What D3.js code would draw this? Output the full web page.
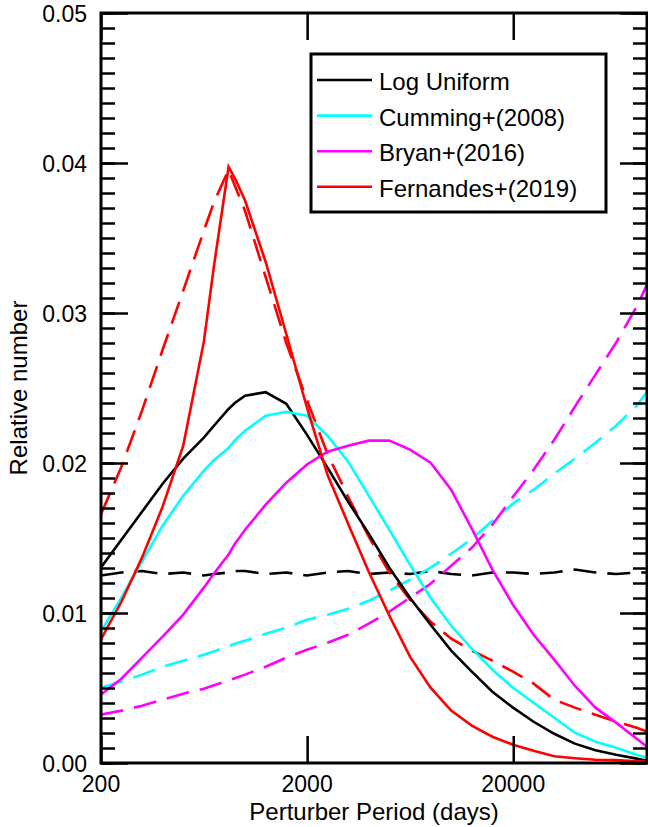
<!DOCTYPE html>
<html>
<head>
<meta charset="utf-8">
<script src="https://cdn.jsdelivr.net/npm/d3@7/dist/d3.min.js"></script>
<style>
  html, body { margin: 0; padding: 0; background: #fff; }
  svg { display: block; }
  text { font-family: "Liberation Sans", Arial, Helvetica, sans-serif; fill: #000; }
</style>
</head>
<body>
<svg id="chart" width="648" height="827"></svg>
<script>
// Perturber period grid, log10(days)
const logPeriod = [2.30, 2.40, 2.50, 2.60, 2.70, 2.80, 2.85, 2.92, 2.95, 3.00, 3.10, 3.20, 3.30, 3.40, 3.50,
                   3.60, 3.70, 3.80, 3.90, 4.00, 4.10, 4.20, 4.30, 4.40, 4.50, 4.60, 4.70, 4.80, 4.90, 4.95];

// Solid curves
const logUniform   = [0.01302, 0.01489, 0.01675, 0.01862, 0.02029, 0.02169, 0.02250, 0.02360, 0.02400, 0.02449, 0.02472, 0.02395, 0.02189, 0.01969, 0.01742,
                      0.01529, 0.01302, 0.01102, 0.00922, 0.00749, 0.00609, 0.00475, 0.00369, 0.00275, 0.00195, 0.00129, 0.00085, 0.00055, 0.00029, 0.00015];
const cumming      = [0.00875, 0.01102, 0.01342, 0.01582, 0.01782, 0.01949, 0.02020, 0.02100, 0.02150, 0.02215, 0.02315, 0.02342, 0.02315, 0.02182, 0.02009,
                      0.01782, 0.01555, 0.01322, 0.01102, 0.00915, 0.00762, 0.00622, 0.00502, 0.00402, 0.00302, 0.00202, 0.00142, 0.00102, 0.00055, 0.00035];
const bryan        = [0.00455, 0.00562, 0.00702, 0.00842, 0.00989, 0.01169, 0.01265, 0.01390, 0.01460, 0.01555, 0.01722, 0.01869, 0.01989, 0.02075, 0.02115,
                      0.02149, 0.02149, 0.02089, 0.02002, 0.01822, 0.01562, 0.01289, 0.01055, 0.00855, 0.00689, 0.00515, 0.00369, 0.00269, 0.00162, 0.00109];
const fernandes    = [0.00822, 0.01075, 0.01369, 0.01709, 0.02115, 0.02809, 0.03322, 0.03975, 0.03900, 0.03750, 0.03340, 0.02860, 0.02370, 0.01922, 0.01595,
                      0.01275, 0.00982, 0.00709, 0.00502, 0.00349, 0.00249, 0.00175, 0.00122, 0.00082, 0.00045, 0.00032, 0.00022, 0.00019, 0.00012, 0.00009];

// Dashed curves
const logUniformD  = [0.0125, 0.0127, 0.0128, 0.0126, 0.0127, 0.0125, 0.0126, 0.0127, 0.0128, 0.0128, 0.0126, 0.0127, 0.0125, 0.0127, 0.0128,
                      0.0126, 0.0127, 0.0126, 0.0128, 0.0126, 0.0125, 0.0127, 0.0127, 0.0126, 0.0127, 0.0129, 0.0127, 0.0126, 0.0127, 0.0127];
const cummingD     = [0.00502, 0.00542, 0.00589, 0.00642, 0.00682, 0.00722, 0.00745, 0.00778, 0.00795, 0.00815, 0.00862, 0.00902, 0.00955, 0.00989, 0.01029,
                      0.01082, 0.01149, 0.01222, 0.01302, 0.01395, 0.01495, 0.01615, 0.01729, 0.01822, 0.01929, 0.02029, 0.02135, 0.02249, 0.02382, 0.02475];
const bryanD       = [0.00322, 0.00349, 0.00382, 0.00422, 0.00462, 0.00495, 0.00518, 0.00550, 0.00565, 0.00589, 0.00642, 0.00702, 0.00755, 0.00802, 0.00855,
                      0.00929, 0.01009, 0.01102, 0.01195, 0.01315, 0.01435, 0.01589, 0.01775, 0.01955, 0.02155, 0.02375, 0.02589, 0.02802, 0.03042, 0.03189];
const fernandesD   = [0.01655, 0.01975, 0.02349, 0.02755, 0.03149, 0.03549, 0.03742, 0.03955, 0.03850, 0.03680, 0.03240, 0.02800, 0.02420, 0.02060, 0.01775,
                      0.01509, 0.01269, 0.01089, 0.00942, 0.00829, 0.00749, 0.00682, 0.00609, 0.00529, 0.00422, 0.00369, 0.00322, 0.00275, 0.00235, 0.00209];

const seriesNames  = ["Log Uniform", "Cumming+(2008)", "Bryan+(2016)", "Fernandes+(2019)"];
const seriesColors = ["#000000", "#00ffff", "#ff00ff", "#ff0000"];
const solidSeries  = [logUniform, cumming, bryan, fernandes];
const dashedSeries = [logUniformD, cummingD, bryanD, fernandesD];

const xTicks = [200, 2000, 20000];
const yTicks = [0, 0.01, 0.02, 0.03, 0.04, 0.05];
const yMinorTicks = d3.range(0, 51).map(i => i / 1000);
const xDomain = [200, Math.pow(10, 4.95)];
const yDomain = [0, 0.05];

(function draw() {
  const svg = d3.select("#chart");
  const pL = 101, pR = 647, pT = 13, pB = 763;

  const x = d3.scaleLog().domain(xDomain).range([pL, pR]);
  const y = d3.scaleLinear().domain(yDomain).range([pB, pT]);

  const periods = logPeriod.map(l => Math.pow(10, l));
  const line = d3.line().x(d => x(d[0])).y(d => y(d[1]));

  svg.append("clipPath").attr("id", "clip")
    .append("rect").attr("x", pL).attr("y", pT).attr("width", pR - pL).attr("height", pB - pT);

  const curves = svg.append("g").attr("clip-path", "url(#clip)");
  dashedSeries.forEach((vals, i) => {
    curves.append("path")
      .datum(periods.map((p, k) => [p, vals[k]]))
      .attr("d", line)
      .attr("fill", "none")
      .attr("stroke", seriesColors[i])
      .attr("stroke-width", 2.6)
      .attr("stroke-dasharray", "23,11");
  });
  solidSeries.forEach((vals, i) => {
    curves.append("path")
      .datum(periods.map((p, k) => [p, vals[k]]))
      .attr("d", line)
      .attr("fill", "none")
      .attr("stroke", seriesColors[i])
      .attr("stroke-width", 2.6);
  });

  // Axes: ticks drawn inward on all four sides
  function styleAxis(g) {
    g.select(".domain").remove();
    g.selectAll(".tick line").attr("stroke", "#000").attr("stroke-width", 2.5);
  }
  svg.append("g").attr("transform", `translate(${pL},0)`)
    .call(d3.axisRight(y).tickValues(yMinorTicks).tickSize(14).tickFormat("")).call(styleAxis);
  svg.append("g").attr("transform", `translate(${pL},0)`)
    .call(d3.axisRight(y).tickValues(yTicks).tickSize(27).tickFormat("")).call(styleAxis);
  svg.append("g").attr("transform", `translate(${pR},0)`)
    .call(d3.axisLeft(y).tickValues(yMinorTicks).tickSize(14).tickFormat("")).call(styleAxis);
  svg.append("g").attr("transform", `translate(${pR},0)`)
    .call(d3.axisLeft(y).tickValues(yTicks).tickSize(27).tickFormat("")).call(styleAxis);
  svg.append("g").attr("transform", `translate(0,${pB})`)
    .call(d3.axisTop(x).tickValues(xTicks).tickSize(27).tickFormat("")).call(styleAxis);
  svg.append("g").attr("transform", `translate(0,${pT})`)
    .call(d3.axisBottom(x).tickValues(xTicks).tickSize(27).tickFormat("")).call(styleAxis);

  svg.append("rect")
    .attr("x", pL).attr("y", pT).attr("width", pR - pL).attr("height", pB - pT)
    .attr("fill", "none").attr("stroke", "#000").attr("stroke-width", 3);

  // Tick labels
  svg.append("g").selectAll("text").data(yTicks).join("text")
    .attr("x", pL - 14).attr("y", d => y(d) + 9)
    .attr("text-anchor", "end").attr("font-size", 23)
    .text(d => d3.format(".2f")(d));
  svg.append("g").selectAll("text").data(xTicks).join("text")
    .attr("x", d => x(d)).attr("y", 792)
    .attr("text-anchor", "middle").attr("font-size", 23)
    .text(d => d);

  // Axis titles
  svg.append("text").attr("x", (pL + pR) / 2).attr("y", 820)
    .attr("text-anchor", "middle").attr("font-size", 24)
    .text("Perturber Period (days)");
  svg.append("text").attr("transform", `translate(27,${(pT + pB) / 2}) rotate(-90)`)
    .attr("text-anchor", "middle").attr("font-size", 24)
    .text("Relative number");

  // Legend
  const lg = svg.append("g");
  lg.append("rect").attr("x", 311).attr("y", 54).attr("width", 295).attr("height", 158)
    .attr("fill", "#fff").attr("stroke", "#000").attr("stroke-width", 3);
  seriesNames.forEach((name, i) => {
    const yy = 80 + i * 35.6;
    lg.append("line").attr("x1", 317).attr("x2", 372).attr("y1", yy).attr("y2", yy)
      .attr("stroke", seriesColors[i]).attr("stroke-width", 2.6);
    lg.append("text").attr("x", 379).attr("y", yy + 10).attr("font-size", 24).text(name);
  });
})();
</script>
</body>
</html>
